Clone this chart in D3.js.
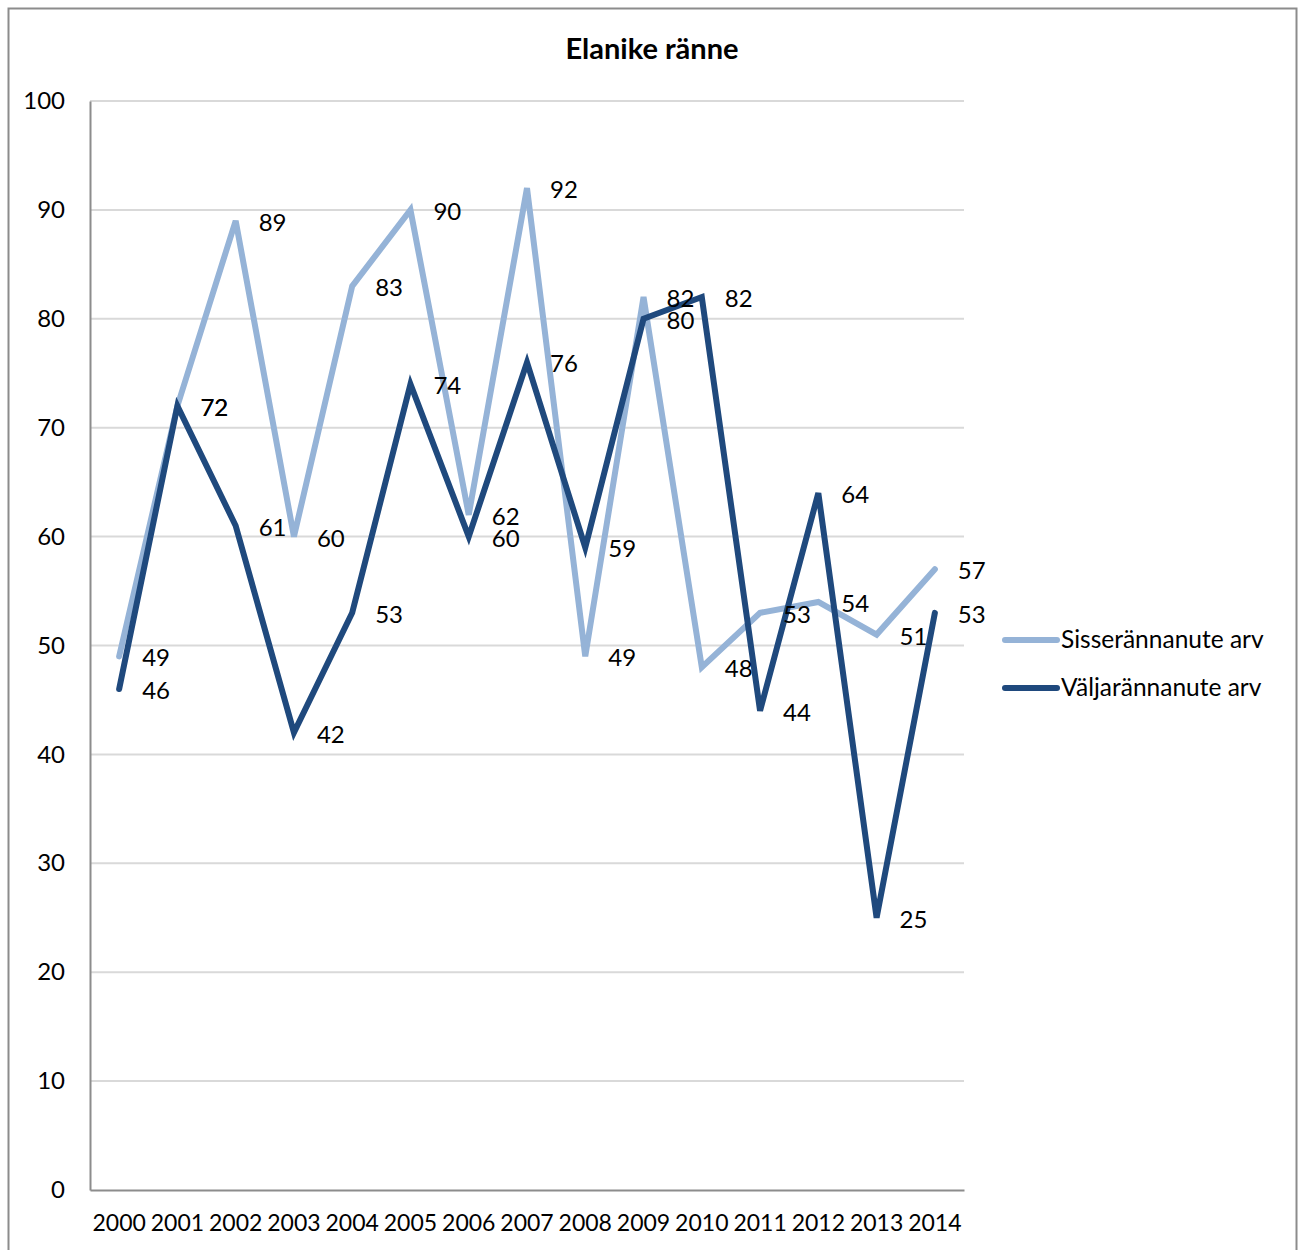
<!DOCTYPE html>
<html>
<head>
<meta charset="utf-8">
<script src="https://cdn.jsdelivr.net/npm/d3@7"></script>
<style>
  html, body { margin: 0; padding: 0; background: #fff; }
  svg { display: block; font-family: Lato, "Open Sans", sans-serif; }
</style>
</head>
<body>
<svg id="chart" width="1303" height="1250"></svg>
<script>
const years = ["2000","2001","2002","2003","2004","2005","2006","2007","2008","2009","2010","2011","2012","2013","2014"];
const sisse = [49, 72, 89, 60, 83, 90, 62, 92, 49, 82, 48, 53, 54, 51, 57];
const valja = [46, 72, 61, 42, 53, 74, 60, 76, 59, 80, 82, 44, 64, 25, 53];
const seriesNames = ["Sisserännanute arv", "Väljarännanute arv"];
const yTicks = [0, 10, 20, 30, 40, 50, 60, 70, 80, 90, 100];
const title = "Elanike ränne";

const colors = ["#95B3D7", "#1F497D"];
const svg = d3.select("#chart");

const plot = { left: 90, right: 964, top: 101, bottom: 1190 };

// Outer frame
svg.append("rect")
  .attr("x", 8.5).attr("y", 8.5)
  .attr("width", 1288).attr("height", 1260)
  .attr("fill", "none").attr("stroke", "#8c8c8c").attr("stroke-width", 2);

const x = d3.scaleBand().domain(years).range([plot.left, plot.right]);
const y = d3.scaleLinear().domain([0, 100]).range([plot.bottom, plot.top]);

// Gridlines
svg.append("g").selectAll("line")
  .data(yTicks.filter(d => d > 0))
  .join("line")
  .attr("x1", plot.left).attr("x2", plot.right)
  .attr("y1", d => y(d)).attr("y2", d => y(d))
  .attr("stroke", "#d9d9d9").attr("stroke-width", 2);

// Y axis
const yAxis = svg.append("g")
  .attr("transform", `translate(${plot.left},0)`)
  .call(d3.axisLeft(y).tickValues(yTicks).tickSize(0).tickPadding(25));
yAxis.select(".domain").attr("stroke", "#8c8c8c").attr("stroke-width", 2);
yAxis.selectAll("text").attr("font-size", 24).attr("fill", "#000")
  .attr("font-family", "Lato, sans-serif");

// X axis
const xAxis = svg.append("g")
  .attr("transform", `translate(0,${plot.bottom})`)
  .call(d3.axisBottom(x).tickSize(0).tickPadding(25));
xAxis.select(".domain").attr("stroke", "#8c8c8c").attr("stroke-width", 2);
xAxis.selectAll("text").attr("font-size", 23).attr("fill", "#000")
  .attr("font-family", "Lato, sans-serif");

// Lines
const data = [sisse, valja];
const line = d3.line()
  .x((d, i) => x(years[i]) + x.bandwidth() / 2)
  .y(d => y(d));

data.forEach((s, k) => {
  svg.append("path")
    .datum(s)
    .attr("d", line)
    .attr("fill", "none")
    .attr("stroke", colors[k])
    .attr("stroke-width", 6)
    .attr("stroke-linejoin", "miter")
    .attr("stroke-linecap", "round");
});

// Labels
data.forEach((s, k) => {
  svg.append("g").selectAll("text")
    .data(s)
    .join("text")
    .attr("x", (d, i) => x(years[i]) + x.bandwidth() / 2 + 23)
    .attr("y", d => y(d) + 10)
    .attr("font-size", 24)
    .attr("fill", "#000")
    .text(d => d);
});

// Title
svg.append("text")
  .attr("x", 652).attr("y", 59)
  .attr("text-anchor", "middle")
  .attr("font-size", 29)
  .attr("font-weight", "bold")
  .text(title);

// Legend
seriesNames.forEach((name, k) => {
  const ly = 640 + k * 48;
  svg.append("line")
    .attr("x1", 1005).attr("x2", 1057)
    .attr("y1", ly).attr("y2", ly)
    .attr("stroke", colors[k]).attr("stroke-width", 6)
    .attr("stroke-linecap", "round");
  svg.append("text")
    .attr("x", 1061).attr("y", ly + 8)
    .attr("font-size", 24.5)
    .attr("fill", "#000")
    .text(name);
});
</script>
</body>
</html>
